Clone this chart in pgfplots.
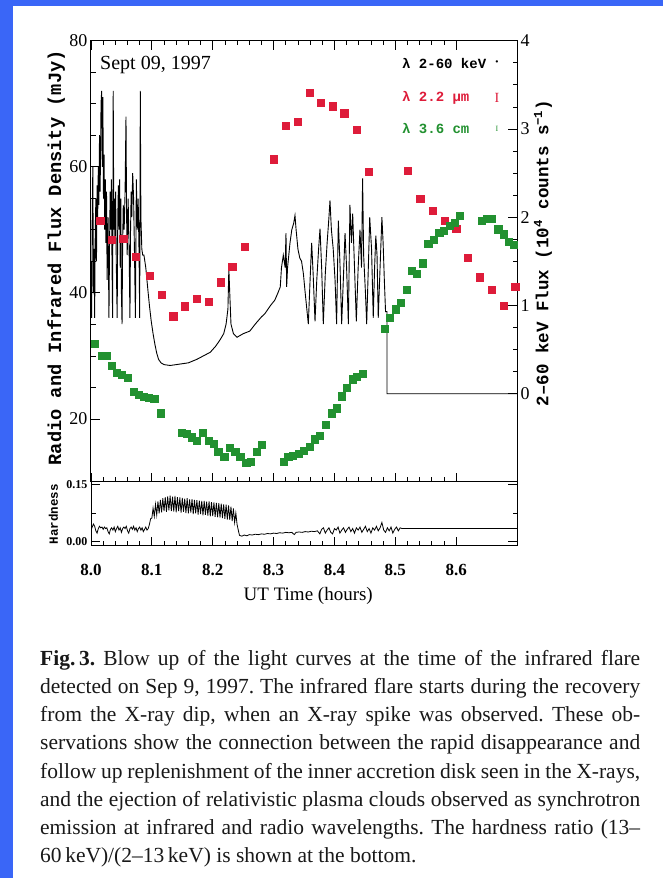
\documentclass[border=0pt]{standalone}
\usepackage{fontspec}
\setmainfont{Liberation Serif}
\setmonofont{Liberation Mono}
\usepackage{pgfplots}
\pgfplotsset{compat=1.18}
\definecolor{bgblue}{RGB}{58,102,247}
\definecolor{ired}{RGB}{222,28,58}
\definecolor{rgreen}{RGB}{34,145,48}

\pgfplotsset{
  common/.style={
    at={(91pt,396pt)}, anchor=south west,
    scale only axis, width=426pt, height=441.3pt,
    xmin=8.0, xmax=8.7,
    tick align=inside,
    major tick length=9pt, minor tick length=4.5pt,
    every tick/.style={black, line width=0.8pt},
    every minor tick/.style={black, line width=0.7pt},
    axis line style={line width=1pt},
    clip=true,
  }
}

\begin{document}
\frenchspacing
\begin{tikzpicture}[x=1pt,y=1pt]
\useasboundingbox (0,0) rectangle (663,878);
\fill[white] (0,0) rectangle (663,878);
\fill[bgblue] (0,0) rectangle (12.5,878);
\fill[bgblue] (0,872) rectangle (663,878);

% ---------- right axis: 2-60 keV X-ray flux ----------
\begin{axis}[common,
  ymin=-1, ymax=4,
  hide x axis,
  axis y line*=right,
  ytick={0,1,2,3,4}, yticklabels={0,1,2,3,4},
  minor y tick num=3,
  yticklabel style={font=\fontsize{18}{18}\selectfont},
  ylabel={2–60 keV Flux (10\textsuperscript{4} counts s\textsuperscript{−1})},
  ylabel style={font=\ttfamily\bfseries\fontsize{17.5}{17.5}\selectfont,
    at={(axis description cs:1.061,0.519)}, anchor=center},
]
\addplot[black, line width=0.9pt] coordinates {
(8.0000,1.50)(8.0010,0.86)(8.0020,2.00)(8.0030,2.57)(8.0040,1.14)(8.0050,1.64)
(8.0060,0.86)(8.0070,1.86)(8.0080,2.21)(8.0090,1.50)(8.0100,2.36)(8.0110,2.00)
(8.0120,2.57)(8.0130,2.14)(8.0140,2.93)(8.0150,2.29)(8.0165,3.29)(8.0175,3.43)
(8.0185,2.57)(8.0195,3.36)(8.0205,2.21)(8.0215,2.71)(8.0225,1.86)(8.0235,2.43)
(8.0245,1.71)(8.0255,2.29)(8.0265,1.29)(8.0280,2.00)(8.0295,0.86)(8.0305,1.71)
(8.0315,2.29)(8.0325,1.86)(8.0335,2.43)(8.0345,1.50)(8.0355,0.86)(8.0365,3.43)
(8.0375,1.86)(8.0385,2.21)(8.0395,1.71)(8.0405,2.29)(8.0415,1.50)(8.0430,0.86)
(8.0440,2.00)(8.0450,2.36)(8.0460,1.86)(8.0470,2.43)(8.0480,1.43)(8.0490,2.21)
(8.0500,1.14)(8.0510,0.79)(8.0520,1.71)(8.0530,2.14)(8.0545,1.86)(8.0560,2.29)
(8.0575,3.14)(8.0585,2.00)(8.0595,1.57)(8.0610,2.21)(8.0625,1.71)(8.0640,0.86)
(8.0650,1.86)(8.0660,2.29)(8.0670,2.00)(8.0685,2.50)(8.0700,2.21)(8.0715,1.57)
(8.0730,0.86)(8.0745,2.43)(8.0760,1.86)(8.0775,2.21)(8.0790,1.57)(8.0800,0.86)
(8.0810,3.43)(8.0820,2.00)(8.0835,1.64)(8.0850,1.57)
(8.0870,1.57)(8.0900,1.43)(8.0930,1.21)(8.0960,1.00)(8.0990,0.82)(8.1020,0.68)
(8.1050,0.56)(8.1080,0.46)(8.1110,0.39)(8.1150,0.35)(8.1200,0.33)(8.1300,0.32)
(8.1400,0.33)(8.1500,0.34)(8.1600,0.35)(8.1740,0.39)(8.1850,0.43)(8.1960,0.47)
(8.2050,0.54)(8.2120,0.61)(8.2180,0.68)(8.2220,0.79)(8.2250,0.96)(8.2265,1.42)
(8.2280,1.14)(8.2300,0.79)(8.2340,0.68)(8.2400,0.64)(8.2500,0.68)(8.2610,0.71)
(8.2700,0.79)(8.2800,0.87)(8.2860,0.91)(8.2950,1.00)(8.3020,1.06)(8.3070,1.14)
(8.3110,1.21)
(8.3130,1.43)(8.3160,1.57)(8.3190,1.43)(8.3204,1.82)(8.3215,1.21)(8.3230,1.43)
(8.3250,1.57)(8.3270,1.71)(8.3300,1.86)(8.3330,1.93)(8.3352,2.02)(8.3370,1.86)
(8.3400,1.64)(8.3430,1.54)(8.3460,1.50)(8.3490,1.36)(8.3520,1.14)(8.3571,0.79)
(8.3600,1.29)(8.3626,1.71)(8.3650,1.36)(8.3681,0.82)(8.3710,1.29)(8.3740,1.64)
(8.3763,1.87)(8.3790,1.43)(8.3817,0.79)(8.3850,1.36)(8.3880,1.71)(8.3910,2.00)
(8.3927,2.19)(8.3950,1.86)(8.3980,1.64)(8.4010,1.29)(8.4036,0.79)(8.4064,1.96)
(8.4090,1.50)(8.4119,0.79)(8.4150,1.36)(8.4174,1.82)(8.4200,1.43)(8.4229,0.79)
(8.4255,2.14)(8.4280,1.71)(8.4300,2.04)(8.4330,1.43)(8.4360,0.82)(8.4390,1.43)
(8.4420,1.86)(8.4445,1.43)(8.4463,2.44)(8.4480,1.57)(8.4510,1.14)(8.4530,0.79)
(8.4560,1.50)(8.4580,2.00)(8.4610,1.64)(8.4638,0.86)(8.4660,1.43)(8.4680,1.79)
(8.4700,1.57)(8.4720,0.86)(8.4750,1.43)(8.4780,2.00)(8.4800,1.71)(8.4820,1.29)
(8.4840,0.93)(8.4864,0.93)(8.4864,0.00)(8.7000,0.00)
};
\end{axis}

% ---------- left axis: radio and infrared ----------
\begin{axis}[common,
  ymin=10, ymax=80,
  xtick={8.0,8.1,8.2,8.3,8.4,8.5,8.6}, xticklabels={},
  minor x tick num=4,
  xtick pos=both, ytick pos=left,
  ytick={20,40,60,80}, yticklabels={20,40,60,80},
  minor y tick num=3,
  yticklabel style={font=\fontsize{18}{18}\selectfont},
  ylabel={Radio and Infrared Flux Density (mJy)},
  ylabel style={font=\ttfamily\bfseries\fontsize{18.7}{18.7}\selectfont,
    at={(axis description cs:-0.082,0.508)}, anchor=center},
]
% 2.2 micron
\addplot[only marks, mark=square*, mark size=3.6pt,
  mark options={draw=ired, fill=ired}] coordinates {
(8.015,51.5)(8.034,48.4)(8.053,48.6)(8.073,45.7)(8.097,42.7)(8.116,39.7)
(8.135,36.3)(8.154,37.9)(8.174,39.1)(8.194,38.6)(8.213,41.7)(8.232,44.2)
(8.252,47.3)(8.300,61.2)(8.320,66.5)(8.339,67.1)(8.359,71.7)(8.378,70.2)
(8.397,69.6)(8.416,68.5)(8.437,65.9)(8.456,59.2)(8.521,59.4)(8.541,54.9)
(8.561,53.0)(8.581,51.5)(8.600,50.2)(8.619,45.6)(8.639,42.5)(8.658,40.5)
(8.678,38.0)(8.697,41.0)
};
% 3.6 cm
\addplot[only marks, mark=square*, mark size=3.6pt,
  mark options={draw=rgreen, fill=rgreen}] coordinates {
(8.0066,32.0)(8.0175,30.0)(8.025,30.0)(8.034,28.5)(8.042,27.3)(8.050,27.0)
(8.060,26.5)(8.070,24.3)(8.078,23.8)(8.086,23.5)(8.095,23.4)(8.104,23.2)
(8.114,20.9)(8.149,17.8)(8.157,17.7)(8.166,17.1)(8.174,16.6)(8.184,17.8)
(8.193,16.5)(8.201,16.1)(8.209,14.8)(8.219,14.0)(8.228,15.4)(8.237,14.8)
(8.245,14.0)(8.255,13.0)(8.262,13.2)(8.272,14.8)(8.280,15.9)
(8.316,13.2)(8.324,14.0)(8.332,14.2)(8.341,14.5)(8.349,15.0)(8.359,15.6)
(8.368,16.8)(8.376,17.3)(8.386,19.1)(8.395,20.9)(8.404,21.7)(8.412,23.6)
(8.420,25.0)(8.430,26.3)(8.437,26.7)(8.447,27.2)
(8.483,34.3)(8.491,36.0)(8.501,37.4)(8.509,38.4)(8.519,40.5)(8.527,43.5)
(8.535,43.1)(8.545,44.7)(8.554,47.8)(8.563,48.4)(8.572,49.5)(8.580,49.9)
(8.589,50.7)(8.597,51.1)(8.606,52.3)(8.642,51.5)(8.650,51.8)(8.659,51.8)
(8.669,50.1)(8.678,49.3)(8.687,48.1)(8.695,47.6)
};
\node[anchor=west, inner sep=0pt, font=\fontsize{20}{20}\selectfont]
  at (axis cs:8.0148,76.1) {Sept 09, 1997};
\node[anchor=west, inner sep=0pt, font=\ttfamily\bfseries\fontsize{14}{14}\selectfont]
  at (axis cs:8.511,76.4) {λ 2-60 keV};
\node[anchor=west, inner sep=0pt, text=ired, font=\ttfamily\bfseries\fontsize{14}{14}\selectfont]
  at (axis cs:8.511,70.9) {λ 2.2 µm};
\node[anchor=west, inner sep=0pt, text=rgreen, font=\ttfamily\bfseries\fontsize{14}{14}\selectfont]
  at (axis cs:8.511,66.0) {λ 3.6 cm};
\node[inner sep=0pt, font=\bfseries\fontsize{14}{14}\selectfont] at (axis cs:8.667,76.4) {·};
\node[inner sep=0pt, text=ired, font=\fontsize{14}{14}\selectfont] at (axis cs:8.667,70.9) {I};
\node[inner sep=0pt, text=rgreen, font=\fontsize{8}{8}\selectfont] at (axis cs:8.667,66.0) {I};
\end{axis}

% ---------- hardness panel ----------
\begin{axis}[common,
  at={(91pt,332pt)}, height=64pt,
  ymin=-0.012, ymax=0.157,
  xtick={8.0,8.1,8.2,8.3,8.4,8.5,8.6},
  xticklabels={8.0,8.1,8.2,8.3,8.4,8.5,8.6},
  minor x tick num=4,
  xtick pos=left,
  ytick={0,0.15}, yticklabels={0.00,0.15},
  minor ytick={0.075},
  ytick pos=both, yticklabel pos=left,
  xticklabel style={font=\bfseries\fontsize{17}{17}\selectfont, anchor=center, yshift=-24pt},
  yticklabel style={font=\bfseries\fontsize{12}{12}\selectfont},
  xlabel={UT Time (hours)},
  xlabel style={font=\fontsize{19}{19}\selectfont,
    at={(axis description cs:0.51,-0.78)}, anchor=center},
  ylabel={Hardness},
  ylabel style={font=\ttfamily\bfseries\fontsize{12.5}{12.5}\selectfont,
    at={(axis description cs:-0.088,0.5)}, anchor=center},
]
\addplot[black, line width=0.8pt] coordinates {
(8.000,0.030)(8.002,0.038)(8.004,0.046)(8.006,0.040)(8.008,0.028)(8.010,0.022)
(8.012,0.034)(8.014,0.040)(8.016,0.036)(8.018,0.038)(8.020,0.032)(8.022,0.038)
(8.024,0.034)(8.026,0.036)(8.028,0.026)(8.030,0.020)(8.032,0.032)(8.034,0.036)
(8.036,0.030)(8.038,0.038)(8.040,0.026)(8.042,0.034)(8.044,0.040)(8.046,0.030)
(8.048,0.036)(8.050,0.024)(8.052,0.034)(8.054,0.038)(8.056,0.034)(8.058,0.040)
(8.060,0.028)(8.062,0.022)(8.064,0.034)(8.066,0.038)(8.068,0.032)(8.070,0.040)
(8.072,0.030)(8.074,0.036)(8.076,0.026)(8.078,0.034)(8.080,0.038)(8.082,0.030)
(8.084,0.036)(8.086,0.026)(8.088,0.032)(8.090,0.038)(8.092,0.030)(8.094,0.034)
(8.096,0.045)(8.098,0.060)
(8.100,0.062)(8.102,0.088)(8.104,0.066)(8.106,0.098)(8.108,0.070)(8.110,0.106)
(8.112,0.074)(8.114,0.110)(8.116,0.077)(8.118,0.114)(8.120,0.080)(8.122,0.117)
(8.124,0.078)(8.126,0.119)(8.128,0.082)(8.130,0.121)(8.132,0.080)(8.134,0.118)
(8.136,0.079)(8.138,0.120)(8.140,0.077)(8.142,0.117)(8.144,0.080)(8.146,0.116)
(8.148,0.076)(8.150,0.115)(8.152,0.078)(8.154,0.113)(8.156,0.075)(8.158,0.114)
(8.160,0.074)(8.162,0.111)(8.164,0.076)(8.166,0.112)(8.168,0.072)(8.170,0.110)
(8.172,0.074)(8.174,0.109)(8.176,0.071)(8.178,0.108)(8.180,0.072)(8.182,0.107)
(8.184,0.069)(8.186,0.107)(8.188,0.070)(8.190,0.105)(8.192,0.068)(8.194,0.106)
(8.196,0.066)(8.198,0.104)(8.200,0.067)(8.202,0.103)(8.204,0.065)(8.206,0.102)
(8.208,0.064)(8.210,0.101)(8.212,0.063)(8.214,0.100)(8.216,0.062)(8.218,0.098)
(8.220,0.060)(8.222,0.097)(8.224,0.058)(8.226,0.095)(8.228,0.057)(8.230,0.092)
(8.232,0.054)(8.234,0.087)(8.236,0.050)(8.238,0.075)(8.240,0.045)(8.242,0.030)
(8.244,0.016)
(8.248,0.014)(8.252,0.017)(8.256,0.015)(8.260,0.018)(8.265,0.017)(8.270,0.019)
(8.275,0.018)(8.280,0.020)(8.285,0.019)(8.290,0.021)(8.295,0.020)(8.300,0.022)
(8.305,0.021)(8.310,0.023)(8.315,0.022)(8.320,0.024)(8.325,0.023)(8.330,0.024)
(8.334,0.018)(8.337,0.024)(8.342,0.025)(8.347,0.024)(8.352,0.026)(8.357,0.025)
(8.362,0.027)(8.367,0.026)(8.372,0.028)(8.376,0.020)(8.379,0.032)(8.382,0.036)
(8.385,0.022)(8.388,0.030)(8.391,0.036)(8.394,0.024)(8.397,0.020)(8.400,0.034)
(8.403,0.030)(8.406,0.038)(8.409,0.022)(8.412,0.030)(8.415,0.036)(8.418,0.024)
(8.421,0.032)(8.424,0.038)(8.427,0.026)(8.430,0.034)(8.433,0.022)(8.436,0.036)
(8.439,0.030)(8.442,0.038)(8.445,0.024)(8.448,0.032)(8.451,0.040)(8.454,0.026)
(8.457,0.034)(8.460,0.022)(8.463,0.036)(8.466,0.030)(8.469,0.040)(8.472,0.028)
(8.475,0.036)(8.478,0.050)(8.481,0.030)(8.484,0.024)(8.487,0.036)(8.490,0.028)
(8.493,0.038)(8.496,0.022)(8.499,0.032)(8.502,0.038)(8.505,0.028)(8.508,0.036)
(8.511,0.034)(8.700,0.034)
};
\end{axis}

% ---------- caption ----------
\node[anchor=north west, inner sep=0pt, text width=600pt, align=justify,
  font=\fontsize{21.5}{28.2}\selectfont, text=black!90] at (40,228) {%
\textbf{Fig.\,3.} Blow up of the light curves at the time of the infrared flare\linebreak
detected on Sep 9, 1997. The infrared flare starts during the recovery\linebreak
from the X-ray dip, when an X-ray spike was observed. These ob-\linebreak
servations show the connection between the rapid disappearance and\linebreak
follow up replenishment of the inner accretion disk seen in the X-rays,\linebreak
and the ejection of relativistic plasma clouds observed as synchrotron\linebreak
emission at infrared and radio wavelengths. The hardness ratio (13–\linebreak
60\,keV)/(2–13\,keV) is shown at the bottom.};
\end{tikzpicture}
\end{document}
